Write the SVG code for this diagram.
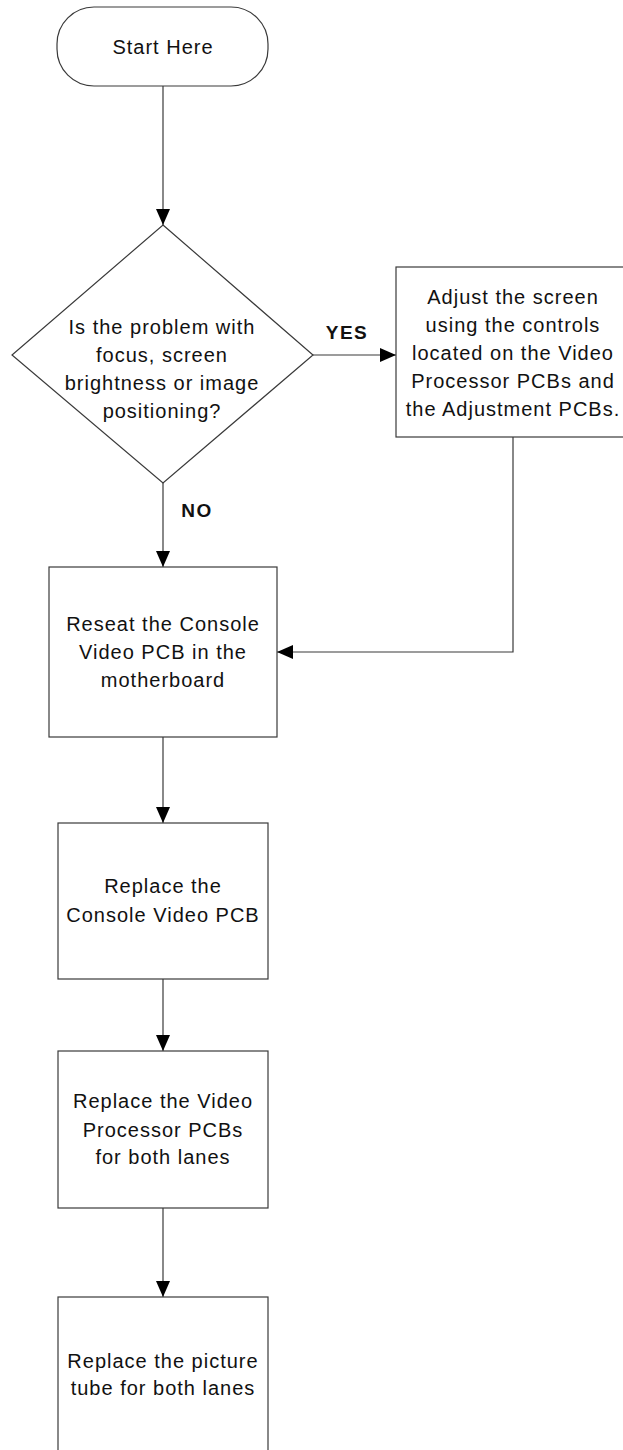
<svg xmlns="http://www.w3.org/2000/svg" width="623" height="1450" viewBox="0 0 623 1450">
  <style>
    .shape { fill: #ffffff; stroke: #3a3a3a; stroke-width: 1.2; }
    .line { fill: none; stroke: #3a3a3a; stroke-width: 1.2; }
    .label { font-family: "Liberation Sans", Arial, sans-serif; font-size: 20px; letter-spacing: 1px; fill: #111111; text-anchor: middle; }
    .tag { font-family: "Liberation Sans", Arial, sans-serif; font-size: 19px; font-weight: bold; letter-spacing: 1.5px; fill: #111111; text-anchor: middle; }
  </style>
  <defs>
    <marker id="arrow" viewBox="0 0 16 14" refX="16" refY="7" markerWidth="16" markerHeight="14" markerUnits="userSpaceOnUse" orient="auto">
      <path d="M0,0 L16,7 L0,14 Z" fill="#000000"/>
    </marker>
  </defs>

  <rect width="623" height="1450" fill="#ffffff"/>

  <!-- connectors -->
  <g id="connectors">
    <line class="line" x1="163" y1="86" x2="163" y2="225" marker-end="url(#arrow)"/>
    <line class="line" x1="313" y1="355" x2="396" y2="355" marker-end="url(#arrow)"/>
    <line class="line" x1="163" y1="483" x2="163" y2="567" marker-end="url(#arrow)"/>
    <polyline class="line" points="513,437 513,652 277,652" marker-end="url(#arrow)"/>
    <line class="line" x1="163" y1="737" x2="163" y2="823" marker-end="url(#arrow)"/>
    <line class="line" x1="163" y1="979" x2="163" y2="1051" marker-end="url(#arrow)"/>
    <line class="line" x1="163" y1="1208" x2="163" y2="1297" marker-end="url(#arrow)"/>
    <text class="tag" x="347" y="339">YES</text>
    <text class="tag" x="197" y="517">NO</text>
  </g>

  <g id="start">
    <rect class="shape" x="57" y="7" width="211" height="79" rx="37" ry="37"/>
    <text class="label" x="163" y="54">Start Here</text>
  </g>

  <g id="decision">
    <polygon class="shape" points="163,225 313,355 163,483 12,355"/>
    <text class="label" x="162" y="334">Is the problem with</text>
    <text class="label" x="162" y="362">focus, screen</text>
    <text class="label" x="162" y="390">brightness or image</text>
    <text class="label" x="162" y="418">positioning?</text>
  </g>

  <g id="adjust">
    <rect class="shape" x="396" y="267" width="234" height="170"/>
    <text class="label" x="513" y="304">Adjust the screen</text>
    <text class="label" x="513" y="332">using the controls</text>
    <text class="label" x="513" y="360">located on the Video</text>
    <text class="label" x="513" y="388">Processor PCBs and</text>
    <text class="label" x="513" y="416">the Adjustment PCBs.</text>
  </g>

  <g id="reseat">
    <rect class="shape" x="49" y="567" width="228" height="170"/>
    <text class="label" x="163" y="631">Reseat the Console</text>
    <text class="label" x="163" y="659">Video PCB in the</text>
    <text class="label" x="163" y="687">motherboard</text>
  </g>

  <g id="replace-console">
    <rect class="shape" x="58" y="823" width="210" height="156"/>
    <text class="label" x="163" y="893">Replace the</text>
    <text class="label" x="163" y="922">Console Video PCB</text>
  </g>

  <g id="replace-processor">
    <rect class="shape" x="58" y="1051" width="210" height="157"/>
    <text class="label" x="163" y="1108">Replace the Video</text>
    <text class="label" x="163" y="1137">Processor PCBs</text>
    <text class="label" x="163" y="1164">for both lanes</text>
  </g>

  <g id="replace-tube">
    <rect class="shape" x="58" y="1297" width="210" height="160"/>
    <text class="label" x="163" y="1368">Replace the picture</text>
    <text class="label" x="163" y="1395">tube for both lanes</text>
  </g>
</svg>
